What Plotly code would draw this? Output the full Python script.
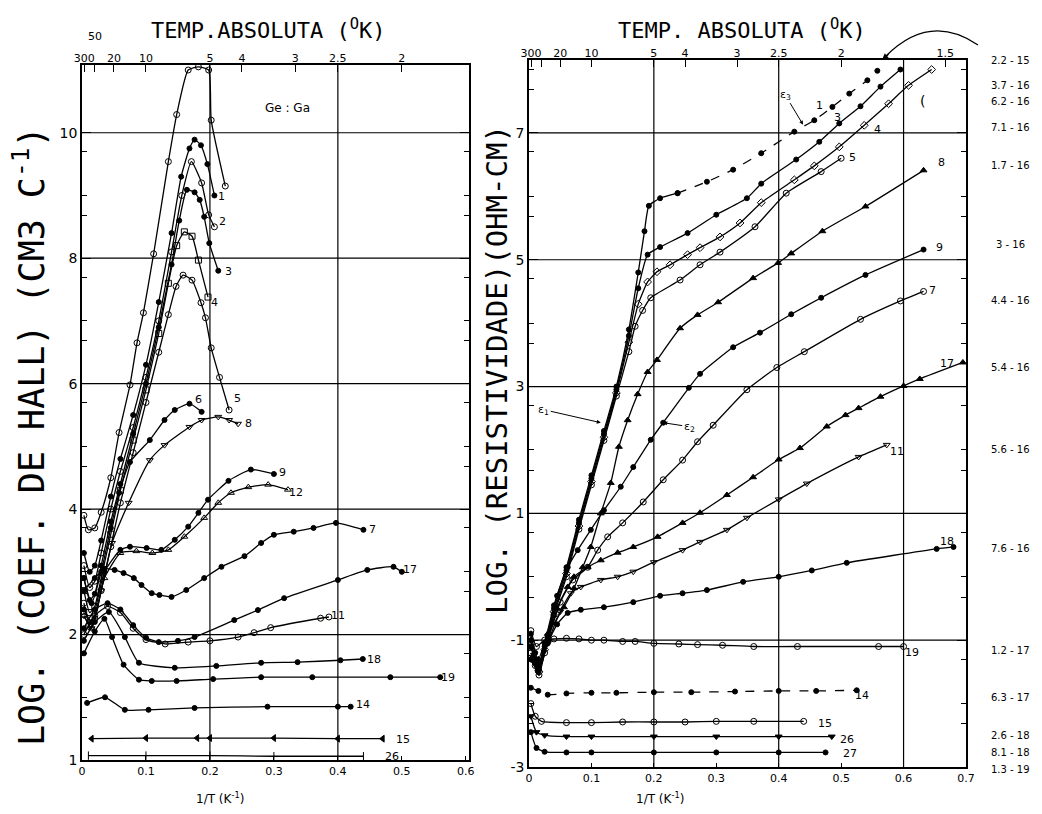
import plotly.graph_objects as go

W, H = 1042, 814

# ---------------- Left panel: log Hall coefficient vs 1/T ----------------
LA_x = [0.003, 0.01, 0.02, 0.03, 0.045, 0.058, 0.075, 0.086, 0.096, 0.112, 0.135, 0.148, 0.166, 0.182, 0.198, 0.202, 0.224]
LA_y = [3.9, 3.67, 3.7, 3.95, 4.5, 5.22, 5.98, 6.65, 7.13, 8.07, 9.54, 10.29, 11.0, 11.05, 11.0, 10.2, 9.15]
L1_x = [0.003, 0.012, 0.02, 0.03, 0.045, 0.06, 0.08, 0.1, 0.12, 0.14, 0.155, 0.168, 0.176, 0.186, 0.196, 0.207]
L1_y = [3.3, 3.0, 3.1, 3.5, 4.2, 4.8, 5.5, 6.3, 7.3, 8.4, 9.3, 9.75, 9.89, 9.8, 9.5, 9.0]
L2_x = [0.003, 0.012, 0.02, 0.03, 0.045, 0.06, 0.08, 0.1, 0.12, 0.14, 0.156, 0.171, 0.187, 0.198, 0.207]
L2_y = [3.1, 2.75, 2.85, 3.3, 4.0, 4.6, 5.3, 6.1, 7.0, 8.1, 9.0, 9.54, 9.2, 8.69, 8.5]
L3_x = [0.003, 0.012, 0.02, 0.03, 0.045, 0.06, 0.08, 0.1, 0.12, 0.14, 0.152, 0.164, 0.176, 0.184, 0.191, 0.199, 0.213]
L3_y = [2.9, 2.55, 2.65, 3.1, 3.8, 4.4, 5.2, 6.0, 6.9, 7.9, 8.6, 9.09, 9.05, 8.93, 8.66, 8.24, 7.8]
L4_x = [0.003, 0.012, 0.02, 0.03, 0.045, 0.06, 0.08, 0.1, 0.12, 0.135, 0.148, 0.16, 0.172, 0.182, 0.197]
L4_y = [2.7, 2.35, 2.45, 2.9, 3.6, 4.3, 5.1, 5.9, 6.8, 7.6, 8.2, 8.42, 8.35, 7.97, 7.38]
L5_x = [0.003, 0.012, 0.02, 0.03, 0.045, 0.06, 0.08, 0.1, 0.12, 0.135, 0.147, 0.158, 0.172, 0.186, 0.193, 0.202, 0.215, 0.23]
L5_y = [2.5, 2.15, 2.25, 2.7, 3.4, 4.1, 4.9, 5.7, 6.5, 7.1, 7.55, 7.73, 7.65, 7.29, 7.05, 6.57, 6.1, 5.58]
L6_x = [0.003, 0.015, 0.03, 0.045, 0.058, 0.075, 0.106, 0.129, 0.145, 0.168, 0.187]
L6_y = [2.9, 2.5, 3.0, 3.7, 4.26, 4.75, 5.10, 5.42, 5.58, 5.68, 5.55]
L8_x = [0.003, 0.015, 0.03, 0.047, 0.073, 0.106, 0.129, 0.168, 0.187, 0.213, 0.23, 0.244]
L8_y = [2.3, 2.1, 2.7, 3.46, 4.10, 4.78, 5.02, 5.31, 5.42, 5.47, 5.42, 5.36]
L9_x = [0.003, 0.015, 0.035, 0.06, 0.075, 0.101, 0.124, 0.145, 0.166, 0.182, 0.197, 0.229, 0.264, 0.30]
L9_y = [2.4, 2.2, 3.0, 3.35, 3.40, 3.38, 3.35, 3.51, 3.72, 3.94, 4.15, 4.45, 4.63, 4.56]
L12_x = [0.003, 0.015, 0.035, 0.06, 0.085, 0.11, 0.135, 0.16, 0.191, 0.213, 0.233, 0.26, 0.291, 0.322]
L12_y = [2.3, 2.1, 2.9, 3.3, 3.33, 3.3, 3.35, 3.56, 3.86, 4.10, 4.26, 4.35, 4.39, 4.31]
L7_x = [0.003, 0.02, 0.035, 0.051, 0.065, 0.081, 0.093, 0.109, 0.121, 0.14, 0.163, 0.191, 0.218, 0.254, 0.28, 0.30, 0.331, 0.362, 0.397, 0.44]
L7_y = [2.7, 2.9, 3.05, 3.03, 2.98, 2.90, 2.79, 2.66, 2.63, 2.60, 2.71, 2.90, 3.08, 3.25, 3.46, 3.59, 3.64, 3.70, 3.78, 3.67]
L17_x = [0.003, 0.02, 0.04, 0.06, 0.08, 0.1, 0.12, 0.15, 0.176, 0.238, 0.275, 0.316, 0.40, 0.446, 0.487, 0.50]
L17_y = [2.1, 2.4, 2.5, 2.4, 2.15, 1.95, 1.88, 1.9, 1.96, 2.23, 2.39, 2.58, 2.87, 3.03, 3.08, 3.0]
L11_x = [0.003, 0.02, 0.04, 0.06, 0.08, 0.1, 0.13, 0.166, 0.2, 0.244, 0.269, 0.295, 0.373, 0.386]
L11_y = [2.0, 2.3, 2.45, 2.35, 2.1, 1.92, 1.85, 1.88, 1.9, 1.96, 2.03, 2.11, 2.26, 2.28]
L18_x = [0.003, 0.02, 0.042, 0.067, 0.089, 0.145, 0.21, 0.28, 0.337, 0.404, 0.439]
L18_y = [1.9, 2.2, 2.36, 1.96, 1.55, 1.47, 1.50, 1.55, 1.56, 1.59, 1.61]
L19_x = [0.003, 0.02, 0.035, 0.047, 0.065, 0.089, 0.109, 0.148, 0.205, 0.28, 0.36, 0.482, 0.56]
L19_y = [1.7, 2.05, 2.25, 1.96, 1.52, 1.28, 1.26, 1.26, 1.29, 1.32, 1.32, 1.32, 1.32]
L14_x = [0.008, 0.036, 0.067, 0.104, 0.176, 0.29, 0.40, 0.42]
L14_y = [0.91, 1.0, 0.80, 0.80, 0.83, 0.85, 0.85, 0.85]
L15_x = [0.015, 0.1, 0.18, 0.2, 0.3, 0.4, 0.47]
L15_y = [0.34, 0.35, 0.35, 0.35, 0.35, 0.34, 0.34]
L26_x = [0.01, 0.1, 0.2, 0.3, 0.44]
L26_y = [0.07, 0.07, 0.07, 0.06, 0.06]

left_labels = ["1", "2", "3", "4", "5", "6", "8", "9", "12", "7", "17", "11", "18", "19", "14", "15", "26"]
left_label_x = [0.218, 0.219, 0.229, 0.207, 0.243, 0.182, 0.261, 0.314, 0.334, 0.454, 0.513, 0.40, 0.456, 0.572, 0.44, 0.502, 0.485]
left_label_y = [8.98, 8.58, 7.78, 7.3, 5.77, 5.74, 5.36, 4.58, 4.27, 3.67, 3.03, 2.31, 1.61, 1.32, 0.88, 0.33, 0.06]

# ---------------- Right panel: log resistivity vs 1/T ----------------
R1_x = [0.003, 0.01, 0.016, 0.025, 0.04, 0.06, 0.08, 0.1, 0.12, 0.14, 0.16, 0.175, 0.185, 0.192, 0.21, 0.238, 0.285, 0.327, 0.372, 0.425, 0.457, 0.486, 0.513, 0.542, 0.558]
R1_y = [-0.9, -1.2, -1.4, -1.05, -0.45, 0.15, 0.9, 1.6, 2.3, 3.0, 3.9, 4.8, 5.45, 5.85, 5.97, 6.05, 6.23, 6.42, 6.68, 7.02, 7.2, 7.41, 7.62, 7.83, 7.98]
R3_x = [0.003, 0.01, 0.016, 0.025, 0.04, 0.06, 0.08, 0.1, 0.12, 0.14, 0.16, 0.175, 0.19, 0.21, 0.254, 0.30, 0.349, 0.372, 0.428, 0.465, 0.497, 0.531, 0.563, 0.595]
R3_y = [-1.0, -1.3, -1.45, -1.1, -0.5, 0.1, 0.85, 1.55, 2.25, 2.95, 3.8, 4.55, 5.08, 5.2, 5.42, 5.71, 5.97, 6.2, 6.58, 6.86, 7.15, 7.42, 7.73, 8.0]
R4_x = [0.003, 0.01, 0.016, 0.025, 0.04, 0.06, 0.08, 0.1, 0.12, 0.14, 0.16, 0.175, 0.19, 0.205, 0.226, 0.254, 0.274, 0.306, 0.338, 0.372, 0.425, 0.457, 0.497, 0.537, 0.576, 0.608, 0.645]
R4_y = [-1.1, -1.35, -1.5, -1.15, -0.55, 0.05, 0.8, 1.5, 2.2, 2.9, 3.7, 4.3, 4.65, 4.81, 4.92, 5.08, 5.19, 5.36, 5.58, 5.9, 6.26, 6.48, 6.78, 7.12, 7.46, 7.75, 8.0]
R5_x = [0.003, 0.01, 0.016, 0.025, 0.04, 0.06, 0.08, 0.1, 0.12, 0.14, 0.16, 0.17, 0.182, 0.195, 0.242, 0.274, 0.306, 0.362, 0.412, 0.468, 0.5]
R5_y = [-1.2, -1.4, -1.55, -1.2, -0.6, 0.0, 0.75, 1.45, 2.15, 2.85, 3.55, 3.95, 4.2, 4.4, 4.68, 4.92, 5.12, 5.52, 6.05, 6.39, 6.6]
R8_x = [0.003, 0.015, 0.03, 0.056, 0.072, 0.086, 0.099, 0.115, 0.131, 0.144, 0.158, 0.174, 0.19, 0.205, 0.242, 0.27, 0.303, 0.359, 0.399, 0.42, 0.47, 0.539, 0.632]
R8_y = [-1.0, -1.3, -0.9, -0.48, -0.18, 0.15, 0.47, 1.0, 1.48, 2.05, 2.47, 2.88, 3.23, 3.42, 3.92, 4.13, 4.33, 4.71, 4.95, 5.1, 5.45, 5.84, 6.41]
R9_x = [0.003, 0.015, 0.03, 0.045, 0.062, 0.078, 0.099, 0.12, 0.147, 0.167, 0.195, 0.215, 0.256, 0.274, 0.327, 0.37, 0.42, 0.468, 0.539, 0.632]
R9_y = [-1.1, -1.35, -0.95, -0.3, 0.15, 0.42, 0.74, 1.05, 1.42, 1.73, 2.16, 2.43, 2.98, 3.2, 3.62, 3.85, 4.14, 4.4, 4.76, 5.16]
R7_x = [0.003, 0.015, 0.03, 0.05, 0.07, 0.094, 0.11, 0.126, 0.15, 0.183, 0.215, 0.246, 0.27, 0.295, 0.349, 0.397, 0.441, 0.531, 0.595, 0.632]
R7_y = [-1.2, -1.4, -1.0, -0.4, -0.05, 0.15, 0.42, 0.63, 0.85, 1.18, 1.53, 1.84, 2.13, 2.39, 2.95, 3.3, 3.55, 4.06, 4.35, 4.5]
R17_x = [0.003, 0.015, 0.03, 0.045, 0.062, 0.072, 0.094, 0.115, 0.142, 0.167, 0.206, 0.246, 0.274, 0.317, 0.359, 0.4, 0.434, 0.477, 0.507, 0.528, 0.563, 0.6, 0.626, 0.695]
R17_y = [-1.3, -1.45, -1.0, -0.5, -0.16, 0.0, 0.15, 0.26, 0.38, 0.47, 0.63, 0.85, 1.01, 1.29, 1.57, 1.85, 2.03, 2.37, 2.55, 2.66, 2.84, 3.01, 3.12, 3.38]
R11_x = [0.003, 0.015, 0.03, 0.05, 0.067, 0.083, 0.115, 0.142, 0.167, 0.2, 0.246, 0.274, 0.317, 0.349, 0.4, 0.445, 0.528, 0.573]
R11_y = [-1.3, -1.5, -1.05, -0.55, -0.26, -0.16, -0.05, 0.0, 0.08, 0.23, 0.42, 0.55, 0.74, 0.93, 1.22, 1.47, 1.89, 2.08]
R18_x = [0.003, 0.015, 0.03, 0.045, 0.062, 0.083, 0.12, 0.167, 0.21, 0.246, 0.285, 0.343, 0.4, 0.453, 0.509, 0.653, 0.68]
R18_y = [-1.3, -1.5, -1.05, -0.75, -0.57, -0.52, -0.48, -0.4, -0.3, -0.26, -0.21, -0.08, 0.0, 0.1, 0.22, 0.44, 0.47]
R19_x = [0.003, 0.012, 0.025, 0.04, 0.06, 0.08, 0.1, 0.12, 0.15, 0.17, 0.2, 0.24, 0.27, 0.31, 0.36, 0.43, 0.56, 0.6]
R19_y = [-0.85, -1.1, -1.0, -0.98, -0.97, -0.98, -1.0, -1.0, -1.02, -1.02, -1.05, -1.06, -1.07, -1.08, -1.1, -1.1, -1.1, -1.1]
R14_x = [0.003, 0.015, 0.03, 0.06, 0.1, 0.14, 0.2, 0.26, 0.33, 0.4, 0.46, 0.525]
R14_y = [-1.75, -1.8, -1.86, -1.84, -1.83, -1.83, -1.82, -1.82, -1.81, -1.8, -1.8, -1.79]
R15_x = [0.003, 0.01, 0.02, 0.06, 0.1, 0.15, 0.2, 0.25, 0.3, 0.36, 0.44]
R15_y = [-2.0, -2.2, -2.28, -2.3, -2.3, -2.29, -2.29, -2.29, -2.28, -2.28, -2.28]
R26_x = [0.003, 0.012, 0.025, 0.06, 0.1, 0.2, 0.3, 0.4, 0.485]
R26_y = [-2.2, -2.45, -2.5, -2.52, -2.52, -2.52, -2.52, -2.52, -2.52]
R27_x = [0.003, 0.012, 0.025, 0.06, 0.1, 0.2, 0.3, 0.4, 0.475]
R27_y = [-2.45, -2.7, -2.76, -2.77, -2.77, -2.77, -2.77, -2.77, -2.77]

right_labels = ["1", "3", "4", "5", "8", "9", "7", "17", "11", "18", "19", "14", "15", "26", "27"]
right_label_x = [0.466, 0.494, 0.558, 0.518, 0.66, 0.657, 0.646, 0.67, 0.589, 0.67, 0.614, 0.533, 0.474, 0.51, 0.514]
right_label_y = [7.44, 7.24, 7.05, 6.62, 6.53, 5.2, 4.52, 3.37, 1.98, 0.55, -1.19, -1.88, -2.32, -2.57, -2.78]

# sample concentrations (cm^-3, mantissa - exponent), listed down the right margin
conc_labels = ["2.2 - 15", "3.7 - 16", "6.2 - 16", "7.1 - 16", "1.7 - 16", "3 - 16", "4.4 - 16", "5.4 - 16",
               "5.6 - 16", "7.6 - 16", "1.2 - 17", "6.3 - 17", "2.6 - 18", "8.1 - 18", "1.3 - 19"]
conc_py = [61, 85, 101, 128, 165, 244, 300, 368, 449, 548, 650, 697, 735, 752, 769]

top_temps_left = [300, 50, 20, 10, 5, 4, 3, 2.5, 2]
top_text_left = ["300", "", "20", "10", "5", "4", "3", "2.5", "2"]
top_temps_right = [300, 50, 20, 10, 5, 4, 3, 2.5, 2, 1.5]
top_text_right = ["300", "", "20", "10", "5", "4", "3", "2.5", "2", "1.5"]

fig = go.Figure()

def add(xs, ys, sym, xa, ya, size=5, dash="solid"):
    fig.add_trace(go.Scatter(
        x=xs, y=ys, mode="lines+markers", xaxis=xa, yaxis=ya,
        line=dict(color="black", width=1.3, dash=dash, shape="spline", smoothing=0.5),
        marker=dict(symbol=sym, size=size, color="black", line=dict(color="black", width=1)),
        showlegend=False, hoverinfo="skip"))

left = [(LA_x, LA_y, "circle-open"), (L1_x, L1_y, "circle"), (L2_x, L2_y, "circle-open"),
        (L3_x, L3_y, "circle"), (L4_x, L4_y, "square-open"), (L5_x, L5_y, "circle-open"),
        (L6_x, L6_y, "circle"), (L8_x, L8_y, "triangle-down-open"), (L9_x, L9_y, "circle"),
        (L12_x, L12_y, "triangle-up-open"), (L7_x, L7_y, "circle"), (L17_x, L17_y, "circle"),
        (L11_x, L11_y, "circle-open"), (L18_x, L18_y, "circle"), (L19_x, L19_y, "circle"),
        (L14_x, L14_y, "circle"), (L15_x, L15_y, "triangle-left"), (L26_x, L26_y, "line-ns-open")]
for xs, ys, sym in left:
    add(xs, ys, sym, "x", "y", size=5 if sym == "circle" else 6)

# sample 1: solid on the steep part, broken (dashed) beyond the knee
k = R1_x.index(0.238)
add(R1_x[:k + 1], R1_y[:k + 1], "circle", "x2", "y2", size=5)
add(R1_x[k:], R1_y[k:], "circle", "x2", "y2", size=5, dash="dash")

right = [(R3_x, R3_y, "circle", "solid"), (R4_x, R4_y, "diamond-open", "solid"),
         (R5_x, R5_y, "circle-open", "solid"), (R8_x, R8_y, "triangle-up", "solid"), (R9_x, R9_y, "circle", "solid"),
         (R7_x, R7_y, "circle-open", "solid"), (R17_x, R17_y, "triangle-up", "solid"),
         (R11_x, R11_y, "triangle-down-open", "solid"), (R18_x, R18_y, "circle", "solid"),
         (R19_x, R19_y, "circle-open", "solid"), (R14_x, R14_y, "circle", "dash"),
         (R15_x, R15_y, "circle-open", "solid"), (R26_x, R26_y, "triangle-down", "solid"),
         (R27_x, R27_y, "circle", "solid")]
for xs, ys, sym, d in right:
    add(xs, ys, sym, "x2", "y2", size=5 if sym == "circle" else 6, dash=d)

# invisible anchors so the top temperature axes are drawn
fig.add_trace(go.Scatter(x=[0.3], y=[5], xaxis="x3", yaxis="y", mode="markers",
                         marker=dict(opacity=0), showlegend=False, hoverinfo="skip"))
fig.add_trace(go.Scatter(x=[0.3], y=[0], xaxis="x4", yaxis="y2", mode="markers",
                         marker=dict(opacity=0), showlegend=False, hoverinfo="skip"))

base_axis = dict(showline=True, linecolor="black", linewidth=1.5, showgrid=False, zeroline=False,
                 ticks="inside", tickcolor="black", automargin=False)
top_axis = dict(showline=False, showgrid=False, zeroline=False, ticks="inside", ticklen=7,
                tickcolor="black", tickangle=0, automargin=False, tickmode="array",
                tickfont=dict(family="DejaVu Sans", size=11, color="black"))

def minor_vals(bases):
    out = []
    for b in bases:
        out += [b + 0.68, b + 1.0, b + 1.7]
    return out

fig.update_layout(
    width=W, height=H, margin=dict(l=0, r=0, t=0, b=0, autoexpand=False),
    paper_bgcolor="white", plot_bgcolor="white",
    xaxis=dict(domain=[82 / W, 469 / W], range=[0, 0.605], anchor="y", mirror=True,
               tickmode="array", tickvals=[0, 0.1, 0.2, 0.3, 0.4, 0.5, 0.6],
               ticktext=["0", "0.1", "0.2", "0.3", "0.4", "0.5", "0.6"], ticklen=4, tickangle=0,
               tickfont=dict(family="DejaVu Sans", size=11, color="black"), **base_axis),
    yaxis=dict(domain=[(H - 760) / H, (H - 65) / H], range=[0, 11.08], anchor="x", mirror="ticks",
               tickmode="array", tickvals=[0, 2, 4, 6, 8, 10], ticktext=["1", "2", "4", "6", "8", "10"],
               ticklen=9, minor=dict(tickmode="array", tickvals=minor_vals([0, 2, 4, 6, 8]), ticklen=5,
                                     ticks="inside", tickcolor="black"),
               tickfont=dict(family="DejaVu Sans", size=14, color="black"), **base_axis),
    xaxis3=dict(overlaying="x", anchor="y", side="top", range=[0, 0.605],
                tickvals=[1 / t for t in top_temps_left], ticktext=top_text_left, **top_axis),
    xaxis2=dict(domain=[529 / W, 966 / W], range=[0, 0.7], anchor="y2", mirror=True,
                tickmode="array", tickvals=[0, 0.1, 0.2, 0.3, 0.4, 0.5, 0.6, 0.7],
                ticktext=["0", "0.1", "0.2", "0.3", "0.4", "0.5", "0.6", "0.7"], ticklen=4, tickangle=0,
                tickfont=dict(family="DejaVu Sans", size=11, color="black"), **base_axis),
    yaxis2=dict(domain=[(H - 767) / H, (H - 60) / H], range=[-3, 8.15], anchor="x2", mirror="ticks",
                tickmode="array", tickvals=[-3, -1, 1, 3, 5, 7], ticktext=["-3", "-1", "1", "3", "5", "7"],
                ticklen=9, minor=dict(tickmode="array", tickvals=minor_vals([-3, -1, 1, 3, 5, 7]), ticklen=5,
                                      ticks="inside", tickcolor="black"),
                tickfont=dict(family="DejaVu Sans", size=14, color="black"), **base_axis),
    xaxis4=dict(overlaying="x2", anchor="y2", side="top", range=[0, 0.7],
                tickvals=[1 / t for t in top_temps_right], ticktext=top_text_right, **top_axis),
)

# grid lines (only the heavy ones of the original graph paper)
shapes = []
for gx in [0.2, 0.4]:
    shapes.append(dict(type="line", xref="x", yref="y", x0=gx, x1=gx, y0=0, y1=11.08,
                       line=dict(color="black", width=1.2), layer="below"))
for gy in [2, 4, 6, 8, 10]:
    shapes.append(dict(type="line", xref="x", yref="y", x0=0, x1=0.605, y0=gy, y1=gy,
                       line=dict(color="black", width=1.2), layer="below"))
for gx in [0.2, 0.4, 0.6]:
    shapes.append(dict(type="line", xref="x2", yref="y2", x0=gx, x1=gx, y0=-3, y1=8.15,
                       line=dict(color="black", width=1.2), layer="below"))
for gy in [-1, 1, 3, 5, 7]:
    shapes.append(dict(type="line", xref="x2", yref="y2", x0=0, x1=0.7, y0=gy, y1=gy,
                       line=dict(color="black", width=1.2), layer="below"))
# curved pointer from the first concentration label
shapes.append(dict(type="path", xref="paper", yref="paper",
                   path="M %f,%f Q %f,%f %f,%f" % (978 / W, (H - 45) / H, 930 / W, (H - 12) / H, 886 / W, (H - 56) / H),
                   line=dict(color="black", width=1.3)))
fig.update_layout(shapes=shapes)

ann = []
LF = dict(family="DejaVu Sans", size=11, color="black")
for t, x, y in zip(left_labels, left_label_x, left_label_y):
    ann.append(dict(text=t, x=x, y=y, xref="x", yref="y", showarrow=False, font=LF,
                    xanchor="center", yanchor="middle"))
for t, x, y in zip(right_labels, right_label_x, right_label_y):
    ann.append(dict(text=t, x=x, y=y, xref="x2", yref="y2", showarrow=False, font=LF,
                    xanchor="center", yanchor="middle"))
for t, py in zip(conc_labels, conc_py):
    ann.append(dict(text=t, x=1010 / W, y=(H - py) / H, xref="paper", yref="paper", showarrow=False,
                    xanchor="center", yanchor="middle",
                    font=dict(family="DejaVu Sans", size=10, color="black")))
ann.append(dict(text="(", x=0.63, y=7.5, xref="x2", yref="y2", showarrow=False,
                xanchor="center", yanchor="middle", font=dict(family="DejaVu Sans", size=14, color="black")))
ann.append(dict(text="Ge : Ga", x=0.322, y=10.4, xref="x", yref="y", showarrow=False,
                xanchor="center", yanchor="middle", font=dict(family="DejaVu Sans", size=12, color="black")))
ann.append(dict(text="50", x=1 / 50, y=(H - 37) / H, xref="x", yref="paper", showarrow=False,
                xanchor="center", yanchor="middle", font=dict(family="DejaVu Sans", size=11, color="black")))
# epsilon markers
ann.append(dict(text="ε<sub>3</sub>", x=0.439, y=7.13, xref="x2", yref="y2", ax=-18, ay=-30,
                showarrow=True, arrowhead=2, arrowsize=0.8, arrowwidth=1, arrowcolor="black", font=LF))
ann.append(dict(text="ε<sub>1</sub>", x=0.115, y=2.43, xref="x2", yref="y2", ax=-57, ay=-13,
                showarrow=True, arrowhead=2, arrowsize=0.8, arrowwidth=1, arrowcolor="black", font=LF))
ann.append(dict(text="ε<sub>2</sub>", x=0.215, y=2.43, xref="x2", yref="y2", ax=26, ay=4,
                showarrow=True, arrowhead=2, arrowsize=0.8, arrowwidth=1, arrowcolor="black", font=LF))
# arrowhead of the curved pointer
ann.append(dict(text="", x=882 / W, y=(H - 60) / H, xref="paper", yref="paper", ax=8, ay=-7,
                showarrow=True, arrowhead=2, arrowsize=1, arrowwidth=1.3, arrowcolor="black"))
# titles
MF = "DejaVu Sans Mono"
ann.append(dict(text="TEMP.ABSOLUTA (<sup>O</sup>K)", x=268 / W, y=(H - 29) / H, xref="paper", yref="paper",
                xanchor="center", yanchor="middle", showarrow=False, font=dict(family=MF, size=22, color="black")))
ann.append(dict(text="TEMP. ABSOLUTA (<sup>O</sup>K)", x=742 / W, y=(H - 29) / H, xref="paper", yref="paper",
                xanchor="center", yanchor="middle", showarrow=False, font=dict(family=MF, size=22, color="black")))
ann.append(dict(text="LOG. (COEF. DE HALL) (CM3 C<sup>-1</sup>)", x=29 / W, y=(H - 436) / H, xref="paper",
                yref="paper", xanchor="center", yanchor="middle", textangle=-90, showarrow=False,
                font=dict(family=MF, size=35, color="black")))
ann.append(dict(text="LOG. (RESISTIVIDADE)(OHM-CM)", x=497 / W, y=(H - 370) / H, xref="paper",
                yref="paper", xanchor="center", yanchor="middle", textangle=-90, showarrow=False,
                font=dict(family=MF, size=29, color="black")))
ann.append(dict(text="1/T (K<sup>-1</sup>)", x=220 / W, y=(H - 798) / H, xref="paper", yref="paper",
                xanchor="center", yanchor="middle", showarrow=False,
                font=dict(family="DejaVu Sans", size=12, color="black")))
ann.append(dict(text="1/T (K<sup>-1</sup>)", x=660 / W, y=(H - 798) / H, xref="paper", yref="paper",
                xanchor="center", yanchor="middle", showarrow=False,
                font=dict(family="DejaVu Sans", size=12, color="black")))
fig.update_layout(annotations=ann)

fig.write_html("out.html")
